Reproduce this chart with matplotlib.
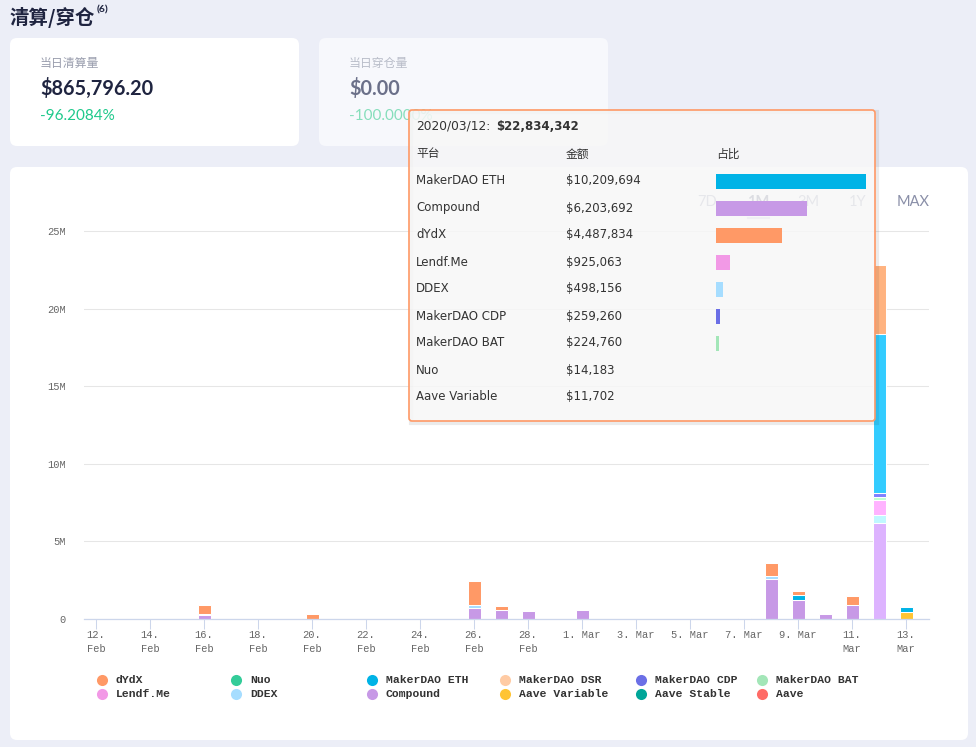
import matplotlib.pyplot as plt
from matplotlib.patches import FancyBboxPatch, Rectangle
import numpy as np

# datos (USD por dia, 12 Feb - 13 Mar 2020)
dias = ['12 Feb', '13 Feb', '14 Feb', '15 Feb', '16 Feb', '17 Feb', '18 Feb', '19 Feb',
        '20 Feb', '21 Feb', '22 Feb', '23 Feb', '24 Feb', '25 Feb', '26 Feb', '27 Feb',
        '28 Feb', '29 Feb', '1 Mar', '2 Mar', '3 Mar', '4 Mar', '5 Mar', '6 Mar',
        '7 Mar', '8 Mar', '9 Mar', '10 Mar', '11 Mar', '12 Mar', '13 Mar']
etiquetas_x = ['12.\nFeb', '14.\nFeb', '16.\nFeb', '18.\nFeb', '20.\nFeb', '22.\nFeb',
               '24.\nFeb', '26.\nFeb', '28.\nFeb', '1. Mar', '3. Mar', '5. Mar',
               '7. Mar', '9. Mar', '11.\nMar', '13.\nMar']

dydx = [0, 0, 0, 0, 550000, 0, 0, 0, 300000, 0, 0, 0, 0, 0, 1560000, 300000,
        0, 0, 0, 0, 0, 0, 0, 0, 80000, 800000, 240000, 0, 580000, 4487833.55, 0]
nuo = [0] * 29 + [14183, 0]
maker_eth = [0] * 26 + [320000, 0, 0, 10209693.55, 300000]
maker_dsr = [0] * 31
maker_cdp = [0] * 29 + [259260, 0]
maker_bat = [0] * 29 + [224760, 0]
lendf = [0] * 29 + [925062.55, 0]
ddex = [0, 0, 0, 0, 120000, 0, 0, 0, 0, 0, 0, 0, 0, 0, 170000, 0,
        0, 0, 0, 0, 0, 0, 0, 0, 0, 190000, 0, 0, 0, 498155.55, 0]
compound = [0, 0, 0, 0, 230000, 0, 0, 0, 0, 0, 0, 0, 0, 0, 700000, 550000,
            530000, 0, 590000, 0, 0, 0, 0, 0, 0, 2600000, 1250000, 320000, 900000, 6203691.55, 0]
aave_var = [0] * 29 + [11702, 450000]
aave_stable = [0] * 31
aave = [0] * 31

nombres = ['dYdX', 'Nuo', 'MakerDAO ETH', 'MakerDAO DSR', 'MakerDAO CDP', 'MakerDAO BAT',
           'Lendf.Me', 'DDEX', 'Compound', 'Aave Variable', 'Aave Stable', 'Aave']
valores = [dydx, nuo, maker_eth, maker_dsr, maker_cdp, maker_bat,
           lendf, ddex, compound, aave_var, aave_stable, aave]
colores = ['#FF9966', '#33CC99', '#00B3E6', '#FFCBA4', '#6B6FE6', '#A3E6B8',
           '#F299E6', '#A6DDFF', '#C799E6', '#FFC433', '#00A699', '#FF6B66']
colores_hover = ['#FFB380', '#4DE6B3', '#33CCFF', '#FFE0C0', '#8080FF', '#C0FFD4',
                 '#FFB3FF', '#C0F8FF', '#DDB3FF', '#FFDD4D', '#1AC0B3', '#FF8580']
idx_hover = dias.index('12 Mar')

W, H = 976, 747
fig = plt.figure(figsize=(W / 100, H / 100), dpi=100)
fig.patch.set_facecolor('#ECEEF7')

# fondo en coordenadas de pixel
bg = fig.add_axes([0, 0, 1, 1], zorder=0)
bg.set_xlim(0, W)
bg.set_ylim(H, 0)
bg.axis('off')

def caja(a, x0, y0, x1, y1, color, r=7, **kw):
    a.add_patch(FancyBboxPatch((x0, y0), x1 - x0, y1 - y0,
                               boxstyle=f'round,pad=0,rounding_size={r}',
                               facecolor=color, edgecolor='none', **kw))

cjk = ['Noto Sans CJK SC', 'DejaVu Sans']
lato = ['Lato', 'Noto Sans CJK SC']

bg.text(10, 18, '清算/穿仓', family=cjk, fontsize=14, fontweight='bold',
        color='#1F2440', va='center', ha='left')
bg.text(97, 10, '(6)', family='Lato', fontsize=7.5, fontweight='bold',
        color='#1F2440', va='center')

caja(bg, 10, 38, 299, 146, 'white')
caja(bg, 319, 38, 608, 146, '#F7F8FC')
caja(bg, 10, 167, 968, 740, 'white')

bg.text(40, 63, '当日清算量', family=cjk, fontsize=8.6, color='#9A9EAE', va='center')
bg.text(40, 88, '$865,796.20', family=lato, fontsize=14.3, fontweight='bold',
        color='#1F2440', va='center')
bg.text(40, 116, '-96.2084%', family=lato, fontsize=11, color='#1EC98B', va='center')
bg.text(349, 63, '当日穿仓量', family=cjk, fontsize=8.6, color='#B9BDC9', va='center')
bg.text(349, 88, '$0.00', family=lato, fontsize=14.3, fontweight='bold',
        color='#6B7089', va='center')
bg.text(349, 116, '-100.0000%', family=lato, fontsize=11, color='#86DEBB', va='center')

# botones de rango
for txt, cx in zip(['7D', '1M', '3M', '1Y', 'MAX'], [707, 758, 808, 858, 913]):
    sel = txt == '1M'
    bg.text(cx, 202, txt, family='Lato', fontsize=10.5, ha='center', va='center',
            color='#4A5070' if sel else '#8A8FA8', fontweight='bold' if sel else 'normal')
bg.plot([748, 769], [218, 218], color='#C5C8E8', lw=1.5)

# leyenda
cols_x = [102, 236, 372, 505, 641, 762]
filas_y = [680, 694]
for k in range(len(nombres)):
    cx = cols_x[k % 6]
    cy = filas_y[k // 6]
    bg.plot(cx, cy, 'o', ms=8, color=colores[k], mec='none')
    bg.text(cx + 14, cy, nombres[k], family='Liberation Mono', fontsize=8.2,
            fontweight='bold', color='#333333', va='center', ha='left')

# grafico de barras apiladas
px0, px1, py0, py1 = 84, 929, 225, 619
ax = fig.add_axes([px0 / W, 1 - py1 / H, (px1 - px0) / W, (py1 - py0) / H], zorder=1)
ax.set_facecolor('none')
x = np.arange(len(dias))
base = np.zeros(len(x))
for i in reversed(range(len(nombres))):
    v = np.array(valores[i], dtype=float)
    m = v > 0
    if m.any():
        cs = [colores_hover[i] if j == idx_hover else colores[i] for j in x[m]]
        ax.bar(x[m], v[m], bottom=base[m], width=13 / 27, color=cs,
               edgecolor='white', linewidth=0.75, zorder=2)
    base += v

escala = 25e6 / (619 - 231)
ax.set_ylim(0, (py1 - py0) * escala)
ax.set_xlim(-12 / 27, (929 - 96) / 27)
ax.set_yticks([0, 5e6, 10e6, 15e6, 20e6, 25e6])
ax.set_yticklabels(['0', '5M', '10M', '15M', '20M', '25M'])
ax.set_xticks(x[::2])
ax.set_xticklabels(etiquetas_x, linespacing=1.45)
ax.grid(axis='y', color='#E6E6E6', lw=0.75)
ax.set_axisbelow(True)
for s in ['top', 'right', 'left']:
    ax.spines[s].set_visible(False)
ax.spines['bottom'].set_color('#CCD6EB')
ax.spines['bottom'].set_linewidth(0.9)
ax.tick_params(axis='y', length=0, pad=13, labelsize=7.5, labelcolor='#666666')
ax.tick_params(axis='x', length=7.5, width=0.75, color='#CCD6EB', pad=0.5,
               labelsize=7.5, labelcolor='#666666')
for lab in ax.get_xticklabels() + ax.get_yticklabels():
    lab.set_family('Liberation Mono')

# tooltip
ov = fig.add_axes([0, 0, 1, 1], zorder=5)
ov.set_xlim(0, W)
ov.set_ylim(H, 0)
ov.axis('off')
ov.patch.set_alpha(0)
ov.add_patch(Rectangle((410.5, 111.5), 466, 311, facecolor='none',
                       edgecolor='black', alpha=0.08, lw=3))
ov.add_patch(FancyBboxPatch((409, 110), 466, 311, boxstyle='round,pad=0,rounding_size=3',
                            facecolor='#F7F7F7', alpha=0.85, edgecolor='none'))
ov.add_patch(FancyBboxPatch((409, 110), 466, 311, boxstyle='round,pad=0,rounding_size=3',
                            facecolor='none', edgecolor='#FF9966', lw=1.2))

dia_vals = [(nombres[i], valores[i][idx_hover], colores[i]) for i in range(len(nombres))]
dia_vals = [d for d in dia_vals if d[1] > 0]
dia_vals.sort(key=lambda d: -d[1])
total = sum(d[1] for d in dia_vals)
maximo = dia_vals[0][1]

ov.text(416, 126, '2020/03/12:', family='DejaVu Sans', fontsize=8.8, color='#333333',
        va='center')
ov.text(496, 126, f'${total:,.0f}', family='DejaVu Sans', fontsize=8.5,
        fontweight='bold', color='#333333', va='center')
for txt, cx in zip(['平台', '金额', '占比'], [416, 566, 716]):
    ov.text(cx, 154, txt, family=cjk, fontsize=8.5, color='#333333', va='center')
for k, (nom, val, col) in enumerate(dia_vals):
    cy = 181 + 27 * k
    ov.text(416, cy, nom, family='DejaVu Sans', fontsize=8.5, color='#333333', va='center')
    ov.text(566, cy, f'${val:,.0f}', family='DejaVu Sans', fontsize=8.5,
            color='#333333', va='center')
    ov.add_patch(Rectangle((716, cy - 7.5), 150 * val / maximo, 15,
                           facecolor=col, edgecolor='none'))

fig.savefig('out.png', dpi=100, facecolor=fig.get_facecolor())
